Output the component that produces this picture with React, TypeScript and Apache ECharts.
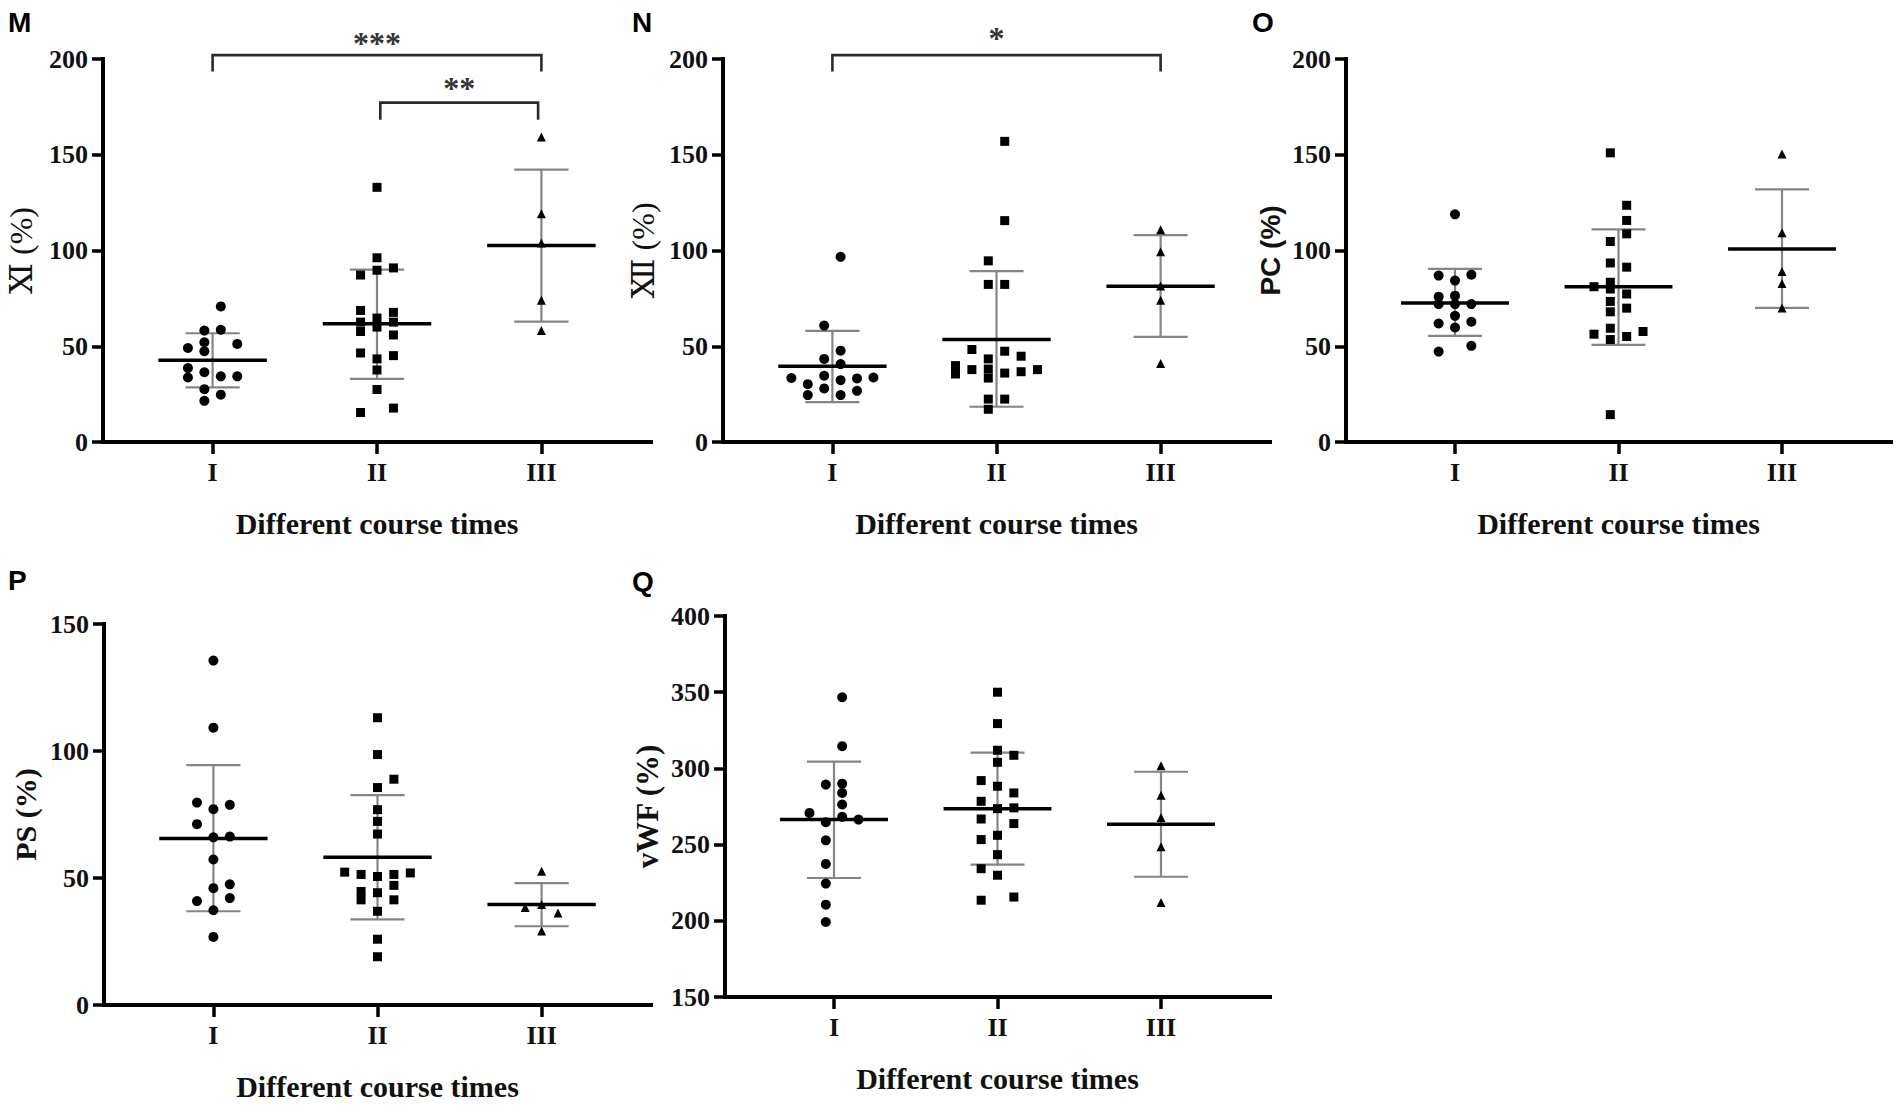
import React, { useEffect, useRef } from "react";
import * as echarts from "echarts";

// ---------- texts ----------
const categories = ["I", "II", "III"];
const xAxisTitle = "Different course times";
const panelLetters = ["M", "N", "O", "P", "Q"];
const yAxisTitles = ["Ⅺ (%)", "Ⅻ (%)", "PC (%)", "PS (%)", "vWF (%)"];
const yMins = [0, 0, 0, 0, 150];
const yMaxs = [200, 200, 200, 150, 400];
const yInterval = 50;

// ---------- Panel M : XI (%) ----------
const xiI = [70.8, 58.2, 58.6, 49.1, 52.1, 51.2, 47.4, 38.6, 36.4, 34.3, 34.3, 33.7, 27.6, 24.7, 21.5];
const xiISlots = [0.5, -0.5, 0.5, -1.5, -0.5, 1.5, -0.5, -1.5, -0.5, 0.5, 1.5, -1.5, -0.5, 0.5, -0.5];
const xiII = [133, 96.2, 89.7, 90.9, 87.2, 68.7, 67.7, 62.6, 64.7, 62.6, 60, 57.7, 55.9, 46.5, 45.1, 43.4, 37.6, 27.4, 15.4, 17.7];
const xiIISlots = [0, 0, 0, 1, -1, -1, 1, -1, 0, 1, 0, -1, 1, -1, 1, 0, 0, 0, -1, 1];
const xiIII = [159.3, 119.2, 103.9, 74, 58.2];
const xiIIISlots = [0, 0, 0, 0, 0];
const xiMeans = [42.7, 61.7, 102.6];
const xiUpper = [56.8, 90.0, 142.2];
const xiLower = [28.5, 33.0, 62.9];
const xiBrackets = [
  { from: 1, to: 3, top: 202, leg: 193.5, label: "***", labelY: 208.5 },
  { from: 2.02, to: 2.98, top: 177.2, leg: 168.3, label: "**", labelY: 185 },
];

// ---------- Panel N : XII (%) ----------
const xiiI = [96.7, 60.8, 47.7, 43.4, 40.7, 33.4, 34.6, 33.7, 32.3, 33.2, 30.2, 28, 26.7, 24.5, 24.5];
const xiiISlots = [0.5, -0.5, 0.5, -0.5, 0.5, -2.5, -0.5, 2.5, 0.5, 1.5, -1.5, -0.5, 1.5, -1.5, 0.5];
const xiiII = [157, 115.6, 94.6, 82.3, 82.3, 48.3, 47.4, 44.8, 43.4, 39.9, 35.5, 37.8, 38.1, 33.4, 36, 36.7, 37.8, 22.4, 22.4, 17.1];
const xiiIISlots = [0.5, 0.5, -0.5, -0.5, 0.5, -1.5, 0.5, 1.5, -0.5, -2.5, -2.5, -1.5, -0.5, -0.5, 0.5, 1.5, 2.5, -0.5, 0.5, -0.5];
const xiiIII = [110.8, 99.3, 81.5, 74, 41];
const xiiIIISlots = [0, 0, 0, 0, 0];
const xiiMeans = [39.5, 53.5, 81.3];
const xiiUpper = [58.0, 89.2, 108.0];
const xiiLower = [20.8, 18.4, 54.9];
const xiiBrackets = [{ from: 1, to: 3, top: 202, leg: 193.5, label: "*", labelY: 211 }];

// ---------- Panel O : PC (%) ----------
const pcI = [118.9, 86.9, 87.4, 84.3, 75.9, 76.4, 72, 72, 72, 65.9, 61.9, 62.8, 59.8, 47.2, 50.2];
const pcISlots = [0, -1, 1, 0, -1, 0, -1, 0, 1, 0, -1, 1, 0, -1, 1];
const pcII = [151, 123.6, 115.7, 108.7, 104.7, 93.5, 91.3, 81.1, 83.4, 79.9, 77.3, 73.4, 69.9, 68, 59.4, 56.3, 57.7, 55.1, 53.5, 14.3];
const pcIISlots = [-0.5, 0.5, 0.5, 0.5, -0.5, -0.5, 0.5, -1.5, -0.5, -0.5, 0.5, -0.5, 0.5, -0.5, -0.5, -1.5, 1.5, 0.5, -0.5, -0.5];
const pcIII = [150.4, 109.3, 89, 82.8, 70];
const pcIIISlots = [0, 0, 0, 0, 0];
const pcMeans = [72.6, 81.1, 100.8];
const pcUpper = [90.4, 111.0, 131.9];
const pcLower = [55.4, 50.7, 70.0];

// ---------- Panel P : PS (%) ----------
const psI = [135.6, 109.2, 79.7, 78.8, 77.1, 71.2, 66, 66.3, 57.3, 46, 47.5, 40.9, 42.1, 37.3, 26.8];
const psISlots = [0, 0, -1, 1, 0, -1, 0, 1, 0, 0, 1, -1, 1, 0, 0];
const psII = [113.1, 98.6, 88.9, 85.6, 76.9, 72.3, 67.3, 52.3, 51.4, 50.6, 51.4, 52, 47.1, 44.7, 44.2, 41.4, 41.4, 36.9, 25.9, 19];
const psIISlots = [0, 0, 1, 0, 0, 0, 0, -2, -1, 0, 1, 2, 1, -1, 0, -1, 1, 0, 0, 0];
const psIII = [52.7, 38.4, 39.6, 36.2, 29.1];
const psIIISlots = [0, -1, 0, 1, 0];
const psMeans = [65.6, 58.2, 39.6];
const psUpper = [94.4, 82.6, 48.0];
const psLower = [36.9, 33.7, 31.0];

// ---------- Panel Q : vWF (%) ----------
const vwfI = [346.7, 314.6, 289.4, 290, 283.9, 276.3, 270.8, 268.2, 266.4, 264.7, 252.8, 237.3, 224.4, 210.6, 199.2];
const vwfISlots = [0.5, 0.5, -0.5, 0.5, 0.5, 0.5, -1.5, 0.5, 1.5, -0.5, -0.5, -0.5, -0.5, -0.5, -0.5];
const vwfII = [350, 329.4, 311.9, 308.6, 304, 292, 288.3, 283.9, 278.4, 273.6, 274.1, 266.8, 263.8, 256.1, 253.3, 243.4, 234.2, 229.9, 213.5, 215.6];
const vwfIISlots = [0, 0, 0, 1, 0, -1, 0, 1, -1, 0, 1, -1, 1, 0, -1, 0, -1, 0, -1, 1];
const vwfIII = [301.7, 282.3, 267.8, 248.6, 212];
const vwfIIISlots = [0, 0, 0, 0, 0];
const vwfMeans = [266.4, 273.6, 263.3];
const vwfUpper = [304.5, 310.4, 297.8];
const vwfLower = [228.1, 236.9, 228.9];

// ---------- assembly ----------
const panelGroups = [
  [xiI, xiII, xiIII],
  [xiiI, xiiII, xiiIII],
  [pcI, pcII, pcIII],
  [psI, psII, psIII],
  [vwfI, vwfII, vwfIII],
];
const panelSlots = [
  [xiISlots, xiIISlots, xiIIISlots],
  [xiiISlots, xiiIISlots, xiiIIISlots],
  [pcISlots, pcIISlots, pcIIISlots],
  [psISlots, psIISlots, psIIISlots],
  [vwfISlots, vwfIISlots, vwfIIISlots],
];
const panelMeans = [xiMeans, xiiMeans, pcMeans, psMeans, vwfMeans];
const panelUpper = [xiUpper, xiiUpper, pcUpper, psUpper, vwfUpper];
const panelLower = [xiLower, xiiLower, pcLower, psLower, vwfLower];
const panelBrackets = [xiBrackets, xiiBrackets, [], [], []];

// ---------- layout & style ----------
const grids = [
  { left: 103, top: 59, width: 548, height: 383 },
  { left: 723, top: 59, width: 547, height: 383 },
  { left: 1346, top: 59, width: 545, height: 383 },
  { left: 104, top: 624, width: 547, height: 381 },
  { left: 725, top: 616, width: 545, height: 381 },
];
const letterPos = [
  [8, 22],
  [632, 22],
  [1252, 22],
  [8, 580],
  [632, 581],
];
const serif = "'Liberation Serif', 'Times New Roman', 'DejaVu Serif', 'Noto Sans CJK SC', serif";
const sans = "'Liberation Sans', Arial, 'DejaVu Sans', sans-serif";
const yNameStyles = [
  { fontFamily: serif, fontWeight: "normal", fontSize: 32 },
  { fontFamily: serif, fontWeight: "normal", fontSize: 32 },
  { fontFamily: sans, fontWeight: "bold", fontSize: 28 },
  { fontFamily: serif, fontWeight: "bold", fontSize: 30 },
  { fontFamily: serif, fontWeight: "bold", fontSize: 31 },
];
const yNameGaps = [66, 64, 62, 64, 62];
const symbols = ["circle", "rect", "triangle"];
const symbolSizes = [10, 9, 9];
const SLOT = 0.1;
const MEAN_HALF = 0.33;
const CAP_HALF = 0.165;
const ERR_COLOR = "#858585";

function buildOption() {
  const xAxis: any[] = [];
  const yAxis: any[] = [];
  const series: any[] = [];

  grids.forEach((_, i) => {
    xAxis.push({
      gridIndex: i,
      type: "value",
      min: 1 / 3,
      max: 11 / 3,
      axisLine: { show: true, onZero: false, lineStyle: { color: "#000", width: 4, cap: "square" } },
      axisTick: { show: true, customValues: [1, 2, 3], length: 12, lineStyle: { color: "#000", width: 3.5 } },
      axisLabel: {
        show: true,
        customValues: [1, 2, 3],
        formatter: (v: number) => categories[Math.round(v) - 1] ?? "",
        margin: 17,
        fontFamily: serif,
        fontWeight: "bold",
        fontSize: 26,
        color: "#111",
      },
      splitLine: { show: false },
      name: xAxisTitle,
      nameLocation: "middle",
      nameGap: 66,
      nameTextStyle: { fontFamily: serif, fontWeight: "bold", fontSize: 30, color: "#111" },
    });
    yAxis.push({
      gridIndex: i,
      type: "value",
      min: yMins[i],
      max: yMaxs[i],
      interval: yInterval,
      axisLine: { show: true, onZero: false, lineStyle: { color: "#000", width: 4, cap: "square" } },
      axisTick: { show: true, length: 11, lineStyle: { color: "#000", width: 3.5 } },
      axisLabel: {
        margin: 15,
        fontFamily: serif,
        fontWeight: "bold",
        fontSize: 26,
        color: "#111",
      },
      splitLine: { show: false },
      name: yAxisTitles[i],
      nameLocation: "middle",
      nameGap: yNameGaps[i],
      nameTextStyle: { ...yNameStyles[i], color: "#111" },
    });

    // error bars + mean lines
    series.push({
      type: "custom",
      xAxisIndex: i,
      yAxisIndex: i,
      clip: false,
      silent: true,
      z: 2,
      data: panelMeans[i].map((m, k) => [k + 1, m, panelLower[i][k], panelUpper[i][k]]),
      renderItem: (params: any, api: any) => {
        const x = api.value(0);
        const pM = api.coord([x, api.value(1)]);
        const pLo = api.coord([x, api.value(2)]);
        const pHi = api.coord([x, api.value(3)]);
        const unit = api.size([1, 0])[0];
        const cap = CAP_HALF * unit;
        const half = MEAN_HALF * unit;
        const errStyle = { stroke: ERR_COLOR, lineWidth: 2.2 };
        return {
          type: "group",
          children: [
            { type: "line", shape: { x1: pLo[0], y1: pLo[1], x2: pHi[0], y2: pHi[1] }, style: errStyle },
            { type: "line", shape: { x1: pHi[0] - cap, y1: pHi[1], x2: pHi[0] + cap, y2: pHi[1] }, style: errStyle },
            { type: "line", shape: { x1: pLo[0] - cap, y1: pLo[1], x2: pLo[0] + cap, y2: pLo[1] }, style: errStyle },
            { type: "line", shape: { x1: pM[0] - half, y1: pM[1], x2: pM[0] + half, y2: pM[1] }, style: { stroke: "#000", lineWidth: 3.5 } },
          ],
        };
      },
    });

    // points
    panelGroups[i].forEach((vals, g) => {
      series.push({
        type: "scatter",
        xAxisIndex: i,
        yAxisIndex: i,
        symbol: symbols[g],
        symbolSize: symbolSizes[g],
        itemStyle: { color: "#000", opacity: 1 },
        silent: true,
        z: 3,
        data: vals.map((v, k) => [g + 1 + panelSlots[i][g][k] * SLOT, v]),
      });
    });

    // significance brackets
    const br = panelBrackets[i];
    if (br.length) {
      series.push({
        type: "custom",
        xAxisIndex: i,
        yAxisIndex: i,
        clip: false,
        silent: true,
        z: 4,
        data: br.map((b) => [b.from, b.top]),
        renderItem: (params: any, api: any) => {
          const b = br[params.dataIndex];
          const a = api.coord([b.from, b.leg]);
          const c = api.coord([b.from, b.top]);
          const d = api.coord([b.to, b.top]);
          const e = api.coord([b.to, b.leg]);
          const t = api.coord([(b.from + b.to) / 2, b.labelY]);
          return {
            type: "group",
            children: [
              {
                type: "polyline",
                shape: { points: [a, c, d, e] },
                style: { stroke: "#2a2a2a", lineWidth: 2.6, fill: null },
              },
              {
                type: "text",
                x: t[0],
                y: t[1],
                style: {
                  text: b.label,
                  fill: "#333",
                  font: `bold 32px ${serif}`,
                  align: "center",
                  verticalAlign: "middle",
                },
              },
            ],
          };
        },
      });
    }
  });

  const graphic = panelLetters.map((t, i) => ({
    type: "text",
    x: letterPos[i][0],
    y: letterPos[i][1],
    style: {
      text: t,
      font: `bold 28px ${sans}`,
      fill: "#000",
      align: "left",
      verticalAlign: "middle",
    },
  }));

  return {
    animation: false,
    backgroundColor: "#fff",
    grid: grids.map((g) => ({ ...g, containLabel: false })),
    xAxis,
    yAxis,
    series,
    graphic,
  };
}

export default function App() {
  const ref = useRef<HTMLDivElement>(null);
  useEffect(() => {
    if (!ref.current) return;
    const chart = echarts.init(ref.current, undefined, { renderer: "svg" });
    chart.setOption(buildOption() as any);
    return () => chart.dispose();
  }, []);
  return (
    <div
      ref={ref}
      style={{ position: "absolute", left: 0, top: 0, width: 1900, height: 1107, background: "#fff" }}
    />
  );
}
